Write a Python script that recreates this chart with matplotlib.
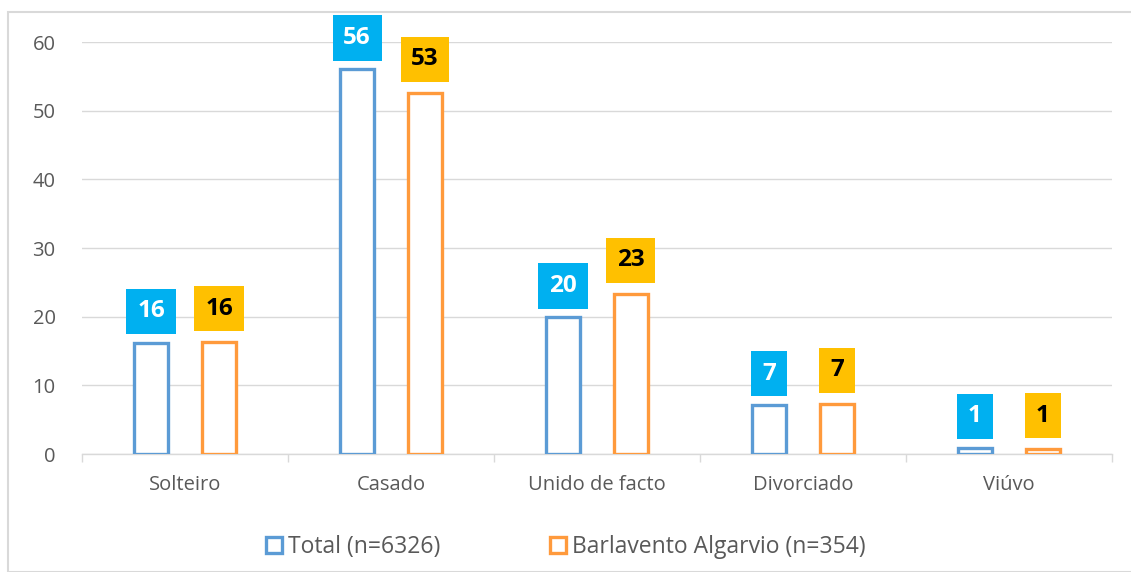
import matplotlib
matplotlib.use("Agg")
import matplotlib.pyplot as plt
from matplotlib.patches import Patch, Rectangle
import numpy as np

categories = ["Solteiro", "Casado", "Unido de facto", "Divorciado", "Viúvo"]
total_values = [16.2, 56.0, 19.9, 7.1, 0.9]
barlavento_values = [16.3, 52.6, 23.3, 7.3, 0.7]
series_names = ["Total (n=6326)", "Barlavento Algarvio (n=354)"]
y_ticks = [0, 10, 20, 30, 40, 50, 60]

plt.rcParams['font.family'] = ['Open Sans', 'DejaVu Sans']

fig = plt.figure(figsize=(11.31, 5.72), dpi=100)
ax = fig.add_axes([82/1131, 1 - 454/572, (1112-82)/1131, (454-42)/572])

x = np.arange(len(categories))
w = 0.165
off = 0.165
blue = "#5b9bd5"
orange = "#ff9a3c"
ax.bar(x - off, total_values, width=w, facecolor="white", edgecolor=blue, linewidth=2.4, zorder=3)
ax.bar(x + off, barlavento_values, width=w, facecolor="white", edgecolor=orange, linewidth=2.4, zorder=3)

for xi, v in zip(x, total_values):
    ax.annotate(f"{v:.0f}", (xi - off, v), xytext=(0, 14), textcoords="offset points",
                ha="center", va="bottom", fontsize=17.5, fontweight="bold", color="white",
                bbox=dict(boxstyle="square,pad=0.44", facecolor="#00b0f0", edgecolor="none"), zorder=5)
for xi, v in zip(x, barlavento_values):
    ax.annotate(f"{v:.0f}", (xi + off, v), xytext=(0, 15.5), textcoords="offset points",
                ha="center", va="bottom", fontsize=17.5, fontweight="bold", color="black",
                bbox=dict(boxstyle="square,pad=0.44", facecolor="#ffc000", edgecolor="none"), zorder=5)

ax.set_xlim(-0.5, len(categories) - 0.5)
ax.set_ylim(0, 60)
ax.set_yticks(y_ticks)
ax.set_xticks(x)
ax.set_xticklabels(categories)
ax.set_xticks(np.arange(-0.5, len(categories)), minor=True)
ax.tick_params(axis="x", which="major", length=0, pad=15, labelsize=14.5, labelcolor="#595959")
ax.tick_params(axis="x", which="minor", length=6, color="#d9d9d9", width=1)
ax.tick_params(axis="y", length=0, pad=19, labelsize=14.5, labelcolor="#595959")
ax.grid(axis="y", color="#d9d9d9", linewidth=1, zorder=0)
for s in ["top", "right", "left"]:
    ax.spines[s].set_visible(False)
ax.spines["bottom"].set_color("#d9d9d9")
ax.spines["bottom"].set_linewidth(1)

handles = [Patch(facecolor="white", edgecolor=blue, linewidth=2.4),
           Patch(facecolor="white", edgecolor=orange, linewidth=2.4)]
fig.legend(handles, series_names, loc="center", bbox_to_anchor=(566/1131, 1 - 547/572),
           ncol=2, frameon=False, fontsize=16.5, handlelength=0.7, handleheight=0.7,
           handletextpad=0.25, columnspacing=4.8, labelcolor="#595959")

fig.patches.append(Rectangle((8/1131, 0), 1.2, 1 - 12/572, transform=fig.transFigure,
                             facecolor="none", edgecolor="#d9d9d9", linewidth=1.5))

fig.savefig("out.png", dpi=100)
